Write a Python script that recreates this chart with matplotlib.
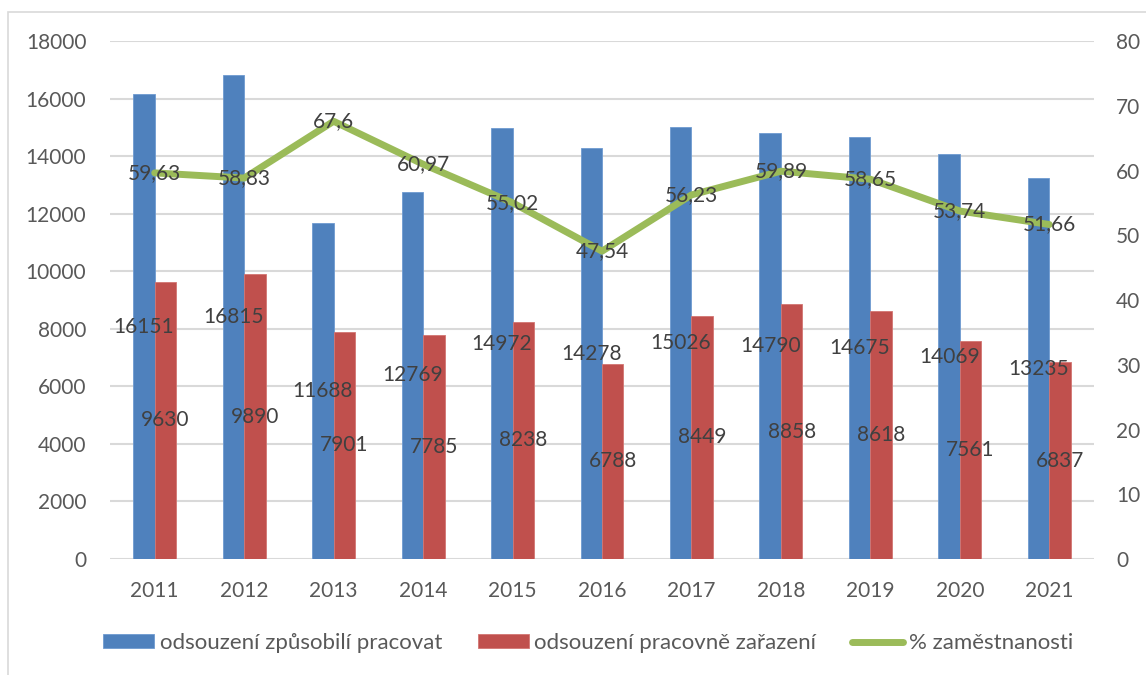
import matplotlib
matplotlib.use("Agg")
import matplotlib.pyplot as plt
import numpy as np
from matplotlib.patches import Rectangle

years = ["2011", "2012", "2013", "2014", "2015", "2016", "2017", "2018", "2019", "2020", "2021"]
zpusobili = [16151, 16815, 11688, 12769, 14972, 14278, 15026, 14790, 14675, 14069, 13235]
zarazeni = [9630, 9890, 7901, 7785, 8238, 6788, 8449, 8858, 8618, 7561, 6837]
zamestnanost = [59.63, 58.83, 67.6, 60.97, 55.02, 47.54, 56.23, 59.89, 58.65, 53.74, 51.66]
labels_pct = ["59,63", "58,83", "67,6", "60,97", "55,02", "47,54", "56,23", "59,89", "58,65", "53,74", "51,66"]

plt.rcParams['font.family'] = ['Lato', 'DejaVu Sans']

BLUE = "#4F81BD"
RED = "#C0504D"
GREEN = "#9BBB59"
TICK = "#595959"
LAB = "#404040"
GRID = "#D9D9D9"
FS = 15
FSL = 16

W, H = 1146, 675
fig = plt.figure(figsize=(W / 100, H / 100), dpi=100)
fig.patches.append(Rectangle((8 / W, -0.1), 1.2, 1 - 12 / H + 0.1, transform=fig.transFigure,
                             fill=False, edgecolor="#D9D9D9", linewidth=1.2))

x0, x1 = 110, 1094
y0, y1 = 559, 41
ax = fig.add_axes([x0 / W, 1 - y0 / H, (x1 - x0) / W, (y0 - y1) / H])
ax2 = ax.twinx()

x = np.arange(len(years))
bw = 0.24
ax.bar(x - bw / 2, zpusobili, bw, color=BLUE, edgecolor="#6F9BD1", linewidth=0.6, zorder=2,
       label="odsouzení způsobilí pracovat")
ax.bar(x + bw / 2, zarazeni, bw, color=RED, edgecolor="#D27572", linewidth=0.6, zorder=2,
       label="odsouzení pracovně zařazení")

ax.set_xlim(-0.5, len(years) - 0.5)
ax.set_ylim(0, 18000)
ax.set_yticks(np.arange(0, 18001, 2000))
ax.grid(axis="y", color=GRID, linewidth=1.5, zorder=0)
ax.set_axisbelow(True)
for s in ax.spines.values():
    s.set_visible(False)
for s in ax2.spines.values():
    s.set_visible(False)
ax.set_xticks(x)
ax.set_xticklabels(years)
ax.tick_params(axis="both", length=0, labelsize=FS, colors=TICK)
ax.tick_params(axis="x", pad=16)
ax.tick_params(axis="y", pad=17)

ax2.set_ylim(0, 80)
ax2.set_yticks(np.arange(0, 81, 10))
ax2.tick_params(axis="y", length=0, labelsize=FS, colors=TICK, pad=16)

ln, = ax2.plot(x, zamestnanost, color=GREEN, linewidth=5, zorder=3, solid_capstyle="round",
               label="% zaměstnanosti")

for i in range(len(years)):
    ax.text(x[i] - bw / 2, zpusobili[i] / 2, str(zpusobili[i]), ha="center", va="center",
            fontsize=FS, color=LAB, zorder=5)
    ax.text(x[i] + bw / 2, zarazeni[i] / 2, str(zarazeni[i]), ha="center", va="center",
            fontsize=FS, color=LAB, zorder=5)
    ax2.text(x[i], zamestnanost[i], labels_pct[i], ha="center", va="center",
             fontsize=FS, color=LAB, zorder=6)

h1, l1 = ax.get_legend_handles_labels()
fig.legend(h1 + [ln], l1 + ["% zaměstnanosti"], loc="center", bbox_to_anchor=(588 / W, 1 - 643 / H),
           ncol=3, frameon=False, fontsize=FSL, handlelength=2.3, handleheight=0.6,
           handletextpad=0.25, columnspacing=1.6, labelcolor=TICK)

fig.savefig("out.png", dpi=100)
